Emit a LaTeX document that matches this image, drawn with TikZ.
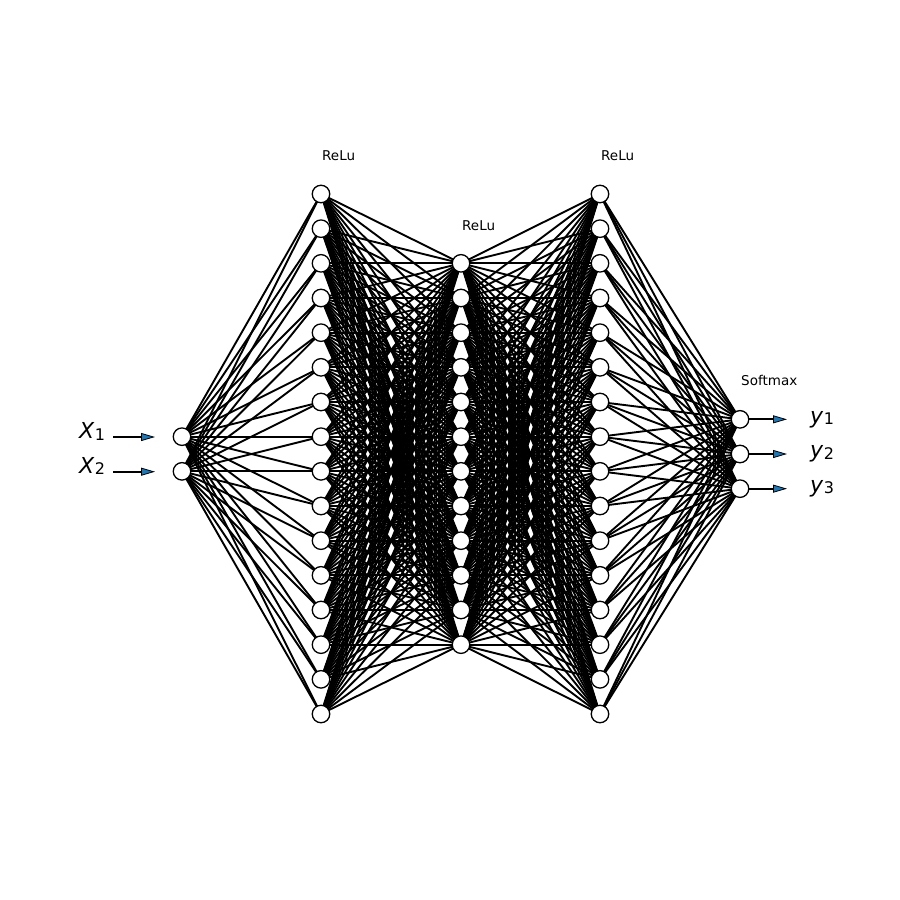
\documentclass[tikz,border=0pt]{standalone}
\usepackage{fontspec}
\setmainfont{DejaVu Sans}
\usetikzlibrary{arrows.meta}
\definecolor{mplblue}{HTML}{1F77B4}
\pgfdeclarelayer{bg}
\pgfsetlayers{bg,main}
\newcommand{\subsc}[1]{\kern0.3pt\raisebox{-1.5pt}{\fontsize{16}{18}\selectfont #1}}
\begin{document}
\begin{tikzpicture}[x=1pt,y=-1pt,
  neuron/.style={circle,draw=black,fill=white,line width=1.3pt,minimum size=17.5pt,inner sep=0pt},
  conn/.style={line width=1.9pt,black},
  arr/.style={line width=1.9pt,-{Triangle[length=14pt,width=8pt,line width=0.8pt,fill=mplblue]}},
  actlabel/.style={anchor=base west,inner sep=0pt,font=\fontsize{13.5}{15}\selectfont},
  iolabel/.style={anchor=base west,inner sep=0pt,font=\fontsize{22}{24}\selectfont}]
\useasboundingbox (0,0) rectangle (900,900);
\def\s{34.667}
% neurons
\foreach \i in {1,...,2} \node[neuron] (a\i) at (182,{454+(\i-1.5)*\s}) {};
\foreach \i in {1,...,16} \node[neuron] (b\i) at (321,{454+(\i-8.5)*\s}) {};
\foreach \i in {1,...,12} \node[neuron] (c\i) at (461,{454+(\i-6.5)*\s}) {};
\foreach \i in {1,...,16} \node[neuron] (d\i) at (600,{454+(\i-8.5)*\s}) {};
\foreach \i in {1,...,3} \node[neuron] (e\i) at (740,{454+(\i-2)*\s}) {};
% connections
\begin{pgfonlayer}{bg}
\foreach \i in {1,...,2} \foreach \j in {1,...,16} \draw[conn] (a\i.center) -- (b\j.center);
\foreach \i in {1,...,16} \foreach \j in {1,...,12} \draw[conn] (b\i.center) -- (c\j.center);
\foreach \i in {1,...,12} \foreach \j in {1,...,16} \draw[conn] (c\i.center) -- (d\j.center);
\foreach \i in {1,...,16} \foreach \j in {1,...,3} \draw[conn] (d\i.center) -- (e\j.center);
\end{pgfonlayer}
% labels
\node[actlabel] (r1) at (322,160) {ReLu};
\node[actlabel] (r2) at (462,230) {ReLu};
\node[actlabel] (r3) at (601,160) {ReLu};
\node[actlabel] (sm) at (741,385.5) {Softmax};
% input arrows
\coordinate (xs1) at (113,437);
\coordinate (xe1) at (155,437);
\coordinate (xs2) at (113,471.7);
\coordinate (xe2) at (155,471.7);
\draw[arr] (xs1) -- (xe1);
\draw[arr] (xs2) -- (xe2);
\node[iolabel] (lx1) at (79,438.5) {\textit{X}\subsc{1}};
\node[iolabel] (lx2) at (79,473.2) {\textit{X}\subsc{2}};
% output arrows
\foreach \i in {1,...,3} {
  \coordinate (ye\i) at (787,{454+(\i-2)*\s});
  \draw[arr] (e\i.east) -- (ye\i);
}
\node[iolabel] (ly1) at (810,423) {\textit{y}\subsc{1}};
\node[iolabel] (ly2) at (810,457.7) {\textit{y}\subsc{2}};
\node[iolabel] (ly3) at (810,492.3) {\textit{y}\subsc{3}};
\end{tikzpicture}
\end{document}
